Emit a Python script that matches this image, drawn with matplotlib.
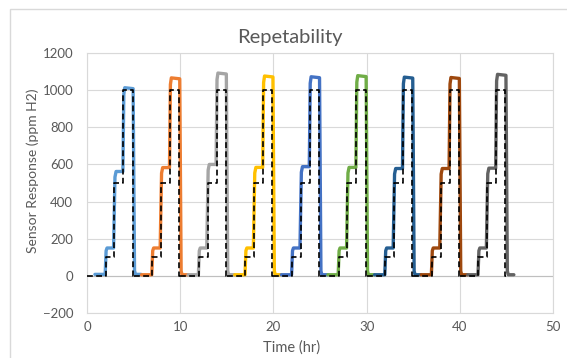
import matplotlib
matplotlib.use("Agg")
import matplotlib.pyplot as plt
from matplotlib.patches import Rectangle

# цвета серий (палитра Excel)
COLORS = ["#5B9BD5", "#ED7D31", "#A5A5A5", "#FFC000", "#4472C4",
          "#70AD47", "#255E91", "#9E480E", "#636363"]

# начало каждого цикла, ч
CYCLE_START = [0, 5, 10, 15, 20, 25, 30, 35, 40]

# уровни отклика сенсора в каждом цикле (ppm)
BASE = [8, 6, 6, 6, 6, 6, 6, 6, 6]
LOW = [150, 150, 150, 150, 150, 150, 150, 150, 150]
MID = [562, 583, 600, 584, 588, 584, 578, 578, 580]
HIGH = [1013, 1066, 1092, 1076, 1072, 1078, 1070, 1068, 1085]

# моменты внутри цикла (ч) для кривой сенсора
SENSOR_T = [0.85, 1.95, 2.05, 2.15, 2.85, 3.0, 3.12, 3.85, 3.95, 4.05, 4.95, 5.1, 5.2, 5.8]

# эталонная концентрация (штрих)
REF_T = [0.0, 2.0, 2.0, 2.95, 2.95, 3.9, 3.9, 4.9, 4.9, 5.0]
REF_V = [0, 0, 100, 100, 500, 500, 1000, 1000, 0, 0]


def sensor_curve(i):
    t0 = CYCLE_START[i]
    b, lo, mi, hi = BASE[i], LOW[i], MID[i], HIGH[i]
    vals = [b, b, lo - 15, lo, lo, mi - 30, mi, mi, hi - 35, hi, hi - 5, b + 20, b, b]
    return [t0 + t for t in SENSOR_T], vals


plt.rcParams['font.family'] = ['Lato', 'DejaVu Sans']
fig = plt.figure(figsize=(5.67, 3.58), dpi=100)
ax = fig.add_axes([87 / 567, 1 - 313 / 358, 466 / 567, 260 / 358])

fig.patches.append(Rectangle((10 / 567, -0.05), 1.1, 1 - 9 / 358 + 0.05,
                             transform=fig.transFigure, fill=False,
                             edgecolor="#D9D9D9", lw=1.0))

for i in range(len(COLORS)):
    t, v = sensor_curve(i)
    ax.plot(t, v, color=COLORS[i], lw=2.4, solid_joinstyle="round",
            solid_capstyle="round", zorder=2)

for t0 in CYCLE_START:
    ax.plot([t0 + t for t in REF_T], REF_V, color="black", lw=1.2,
            dashes=(3.5, 2), zorder=3)

ax.set_xlim(0, 50)
ax.set_ylim(-200, 1200)
ax.set_xticks(range(0, 51, 10))
ax.set_yticks(range(-200, 1201, 200))
ax.grid(True, color="#D9D9D9", lw=0.8, zorder=0)
ax.set_axisbelow(True)
for s in ax.spines.values():
    s.set_color("#D9D9D9")
    s.set_linewidth(0.8)
ax.axhline(0, color="#BFBFBF", lw=0.8, zorder=1)
ax.tick_params(length=0, labelsize=9.5, colors="#595959")
ax.tick_params(axis="y", pad=10)
ax.tick_params(axis="x", pad=6)

fig.text(290 / 567, 1 - 38 / 358, "Repetability", fontsize=14.5,
         color="#595959", ha="center", va="center")
fig.text(292 / 567, 1 - 348 / 358, "Time (hr)", fontsize=10.5,
         color="#595959", ha="center", va="center")
fig.text(33 / 567, 1 - 171 / 358, "Sensor Response (ppm H2)", fontsize=10,
         color="#595959", ha="center", va="center", rotation=90)

fig.savefig("out.png", dpi=100)
